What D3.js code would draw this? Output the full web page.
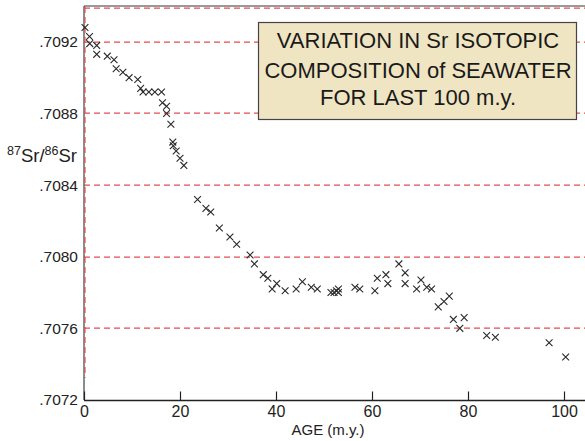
<!DOCTYPE html>
<html>
<head>
<meta charset="utf-8">
<style>
body { margin: 0; background: #fff; }
svg text { font-family: "Liberation Sans", Arial, Helvetica, sans-serif; fill: #222; }
</style>
</head>
<body>
<script src="https://cdn.jsdelivr.net/npm/d3@7"></script>
<script>
// age (m.y.) and 87Sr/86Sr
var ages = [0.2, 1.15, 1.2, 2.65, 2.65, 4.85, 6.25, 6.7, 8.1, 9.4, 11.2, 11.8, 12.3, 13.5, 14.75, 16.15,
  16.35, 17.2, 17.2, 18.1, 18.5, 18.6, 19.2, 20.0, 20.8, 23.65, 25.4, 26.4, 28.2, 30.4, 31.8, 34.6,
  35.5, 37.35, 38.3, 40.15, 39.2, 41.9, 44.2, 45.5, 47.35, 48.6, 51.45, 52.1, 52.6, 53.0, 53.0, 56.45,
  57.45, 60.6, 61.1, 62.9, 63.3, 65.6, 66.9, 66.9, 69.3, 70.2, 71.4, 72.4, 73.8, 75.0, 76.1, 76.95,
  78.3, 79.2, 83.9, 85.7, 96.9, 100.35];
var ratios = [0.70928, 0.70923, 0.70919, 0.70918, 0.70913, 0.70912, 0.70910, 0.70905, 0.70903, 0.70900,
  0.70899, 0.70894, 0.70892, 0.70892, 0.70892, 0.70892, 0.70886, 0.70884, 0.70880, 0.70874, 0.70864,
  0.70862, 0.70859, 0.70855, 0.70851, 0.70832, 0.70827, 0.70825, 0.70816, 0.70811, 0.70807, 0.70801,
  0.70796, 0.70790, 0.70788, 0.70785, 0.70782, 0.70781, 0.70782, 0.70786, 0.70783, 0.70782, 0.70780,
  0.70780, 0.70781, 0.70782, 0.70780, 0.70783, 0.70782, 0.70781, 0.70788, 0.70790, 0.70785, 0.70796,
  0.70791, 0.70785, 0.70782, 0.70787, 0.70783, 0.70782, 0.70772, 0.70775, 0.70778, 0.70765, 0.70760,
  0.70766, 0.70756, 0.70755, 0.70752, 0.70744];

var xTicks = [0, 20, 40, 60, 80, 100];
var yTicks = [0.7072, 0.7076, 0.7080, 0.7084, 0.7088, 0.7092];
var gridVals = [0.7076, 0.7080, 0.7084, 0.7088, 0.7092, 0.7094];
var titleLines = ["VARIATION IN Sr ISOTOPIC", "COMPOSITION of SEAWATER", "FOR LAST 100 m.y."];

var W = 585, H = 441;
var mLeft = 84, mTop = 6, mBottom = 400, mRight = 585;
var red = "#e34c52";

var svg = d3.select("body").append("svg")
    .attr("width", W)
    .attr("height", H);

var x = d3.scaleLinear().domain([0, 100]).range([mLeft, 564]);
var y = d3.scaleLinear().domain([0.7072, 0.7094]).range([mBottom, mTop]);

// red dashed guide lines
svg.append("g")
  .selectAll("line")
  .data(gridVals)
  .join("line")
    .attr("x1", mLeft)
    .attr("x2", mRight)
    .attr("y1", d => Math.round(y(d)) + (d === 0.7094 ? 2 : 0))
    .attr("y2", d => Math.round(y(d)) + (d === 0.7094 ? 2 : 0))
    .attr("stroke", red)
    .attr("stroke-width", 1.25)
    .attr("stroke-dasharray", "6,4");

// frame: top and left in grey
svg.append("line")
    .attr("x1", mLeft).attr("x2", mRight)
    .attr("y1", mTop).attr("y2", mTop)
    .attr("stroke", "#777").attr("stroke-width", 1.5);
svg.append("line")
    .attr("x1", mLeft).attr("x2", mLeft)
    .attr("y1", mTop).attr("y2", mBottom)
    .attr("stroke", "#666").attr("stroke-width", 1.5);
// red dashes along the left edge
svg.append("line")
    .attr("x1", mLeft + 1).attr("x2", mLeft + 1)
    .attr("y1", mTop + 1).attr("y2", mBottom - 22)
    .attr("stroke", red).attr("stroke-width", 1.2)
    .attr("stroke-dasharray", "6,4");

// x axis
svg.append("line")
    .attr("x1", mLeft).attr("x2", mRight)
    .attr("y1", mBottom + 0.5).attr("y2", mBottom + 0.5)
    .attr("stroke", "#222").attr("stroke-width", 1.3);

var xAxis = svg.append("g")
    .attr("transform", "translate(0," + (mBottom + 0.5) + ")")
    .call(d3.axisBottom(x).tickValues(xTicks).tickSize(-9).tickPadding(5).tickFormat(d3.format("d")));
xAxis.select(".domain").remove();
xAxis.selectAll(".tick line").attr("stroke", "#222").attr("stroke-width", 1.2);
xAxis.selectAll(".tick text")
    .style("font-size", "16px")
    .style("font-family", "'Liberation Sans', Arial, sans-serif")
    .attr("fill", "#222");

// y axis labels
var yAxis = svg.append("g")
    .attr("transform", "translate(" + mLeft + ",0)")
    .call(d3.axisLeft(y).tickValues(yTicks).tickSize(0).tickPadding(6)
      .tickFormat(d => d3.format(".4f")(d).replace(/^0/, "")));
yAxis.select(".domain").remove();
yAxis.selectAll(".tick text")
    .style("font-size", "15.5px")
    .style("font-family", "'Liberation Sans', Arial, sans-serif")
    .attr("fill", "#222");

// axis titles
svg.append("text")
    .attr("x", 328).attr("y", 435)
    .attr("text-anchor", "middle")
    .style("font-size", "15px")
    .text("AGE (m.y.)");

var yl = svg.append("text")
    .attr("x", 7).attr("y", 162)
    .style("font-size", "18.5px");
yl.append("tspan").attr("dy", -7).style("font-size", "12.5px").text("87");
yl.append("tspan").attr("dy", 7).text("Sr/");
yl.append("tspan").attr("dy", -7).style("font-size", "12.5px").text("86");
yl.append("tspan").attr("dy", 7).text("Sr");

// data markers
var pts = ages.map((a, i) => ({ a: a, r: ratios[i] }));
var s = 3.4;
svg.append("g")
  .selectAll("path")
  .data(pts)
  .join("path")
    .attr("d", d => {
      var px = x(d.a), py = y(d.r);
      return "M" + (px - s) + "," + (py - s) + "L" + (px + s) + "," + (py + s) +
             "M" + (px - s) + "," + (py + s) + "L" + (px + s) + "," + (py - s);
    })
    .attr("stroke", "#2a2a2a")
    .attr("stroke-width", 1.1)
    .attr("fill", "none");

// title box
var box = svg.append("g");
box.append("rect")
    .attr("x", 258.5).attr("y", 22.5)
    .attr("width", 318).attr("height", 97)
    .attr("fill", "#f0e5c2")
    .attr("stroke", "#444")
    .attr("stroke-width", 1.2);
box.selectAll("text")
  .data(titleLines)
  .join("text")
    .attr("x", 418)
    .attr("y", (d, i) => [48, 78, 105][i])
    .attr("text-anchor", "middle")
    .style("font-size", "22px")
    .style("fill", "#1a1a1a")
    .text(d => d);
</script>
</body>
</html>
